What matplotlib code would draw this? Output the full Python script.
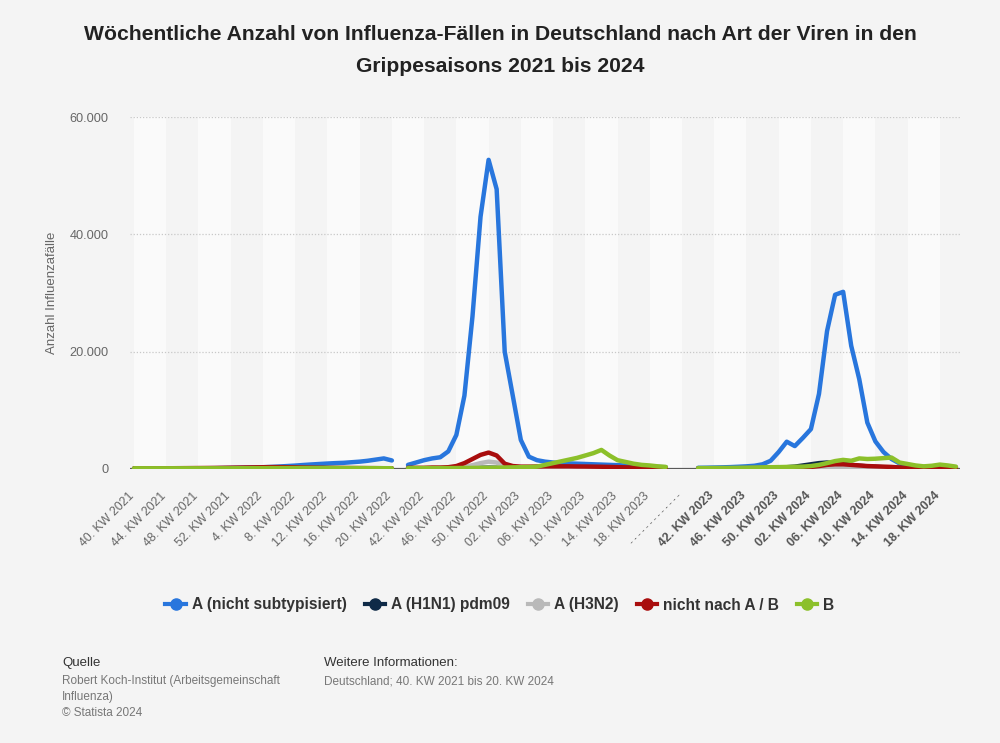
import numpy as np
import matplotlib
matplotlib.use("Agg")
import matplotlib.pyplot as plt
from matplotlib.lines import Line2D
from matplotlib.transforms import offset_copy

plt.rcParams['font.family'] = ['Liberation Sans', 'DejaVu Sans']

# --- Data (weekly cases, each season = KW 40 .. KW 20 of next year) ---
blue_s1 = [60, 60, 70, 70, 80, 90, 100, 110, 120, 130, 140, 160, 180,
           200, 230, 260, 300, 350, 420, 500, 580, 680, 770, 850, 930, 1000,
           1050, 1150, 1250, 1400, 1600, 1800, 1450]
blue_s2 = [700, 1100, 1500, 1800, 2000, 3000, 5800, 12500, 26000, 43000, 52700, 47700, 20000,
           12500, 4950, 2100, 1500, 1250, 1100, 1000, 950, 900, 850, 800, 750, 700,
           650, 600, 500, 450, 400, 350, 300]
blue_s3 = [200, 220, 250, 280, 320, 380, 450, 550, 800, 1400, 2900, 4650, 3900,
           5300, 6800, 12800, 23500, 29700, 30200, 21000, 15300, 7900, 4700, 2900, 1700,
           950, 600, 450, 350, 300, 250, 220, 200]

navy_s1 = [40] * 13 + [50, 50, 60, 60, 70, 70, 80, 80, 90, 90, 90, 90, 80, 80, 70, 70, 60, 60, 50, 50]
navy_s2 = [40, 40, 50, 50, 60, 70, 90, 120, 160, 200, 220, 200, 150,
           120, 100, 90, 80, 80, 70, 70, 60, 60, 60, 50, 50, 50,
           50, 40, 40, 40, 40, 40, 40]
navy_s3 = [60, 60, 70, 70, 80, 90, 100, 120, 140, 170, 200, 300, 400,
           600, 800, 1000, 1100, 1000, 900, 700, 550, 450, 350, 300, 250,
           200, 170, 150, 130, 120, 110, 100, 100]

gray_s1 = [40] * 13 + [50] * 20
gray_s2 = [50, 50, 60, 80, 100, 150, 250, 400, 650, 1000, 1250, 1100, 400,
           200, 150, 120, 100, 90, 80, 70, 60, 60, 60, 50, 50, 50,
           50, 50, 50, 50, 50, 50, 50]
gray_s3 = [60, 60, 60, 70, 70, 80, 80, 90, 100, 110, 120, 130, 140,
           150, 160, 170, 180, 180, 170, 160, 150, 140, 130, 120, 110,
           100, 90, 80, 80, 70, 70, 60, 60]

red_s1 = [100, 100, 110, 110, 120, 130, 140, 150, 160, 170, 180, 200, 220,
          240, 260, 280, 300, 320, 320, 300, 280, 260, 240, 220, 200, 190,
          180, 170, 160, 150, 140, 130, 120]
red_s2 = [200, 200, 200, 250, 250, 300, 500, 1000, 1700, 2400, 2800, 2300, 900,
          500, 400, 400, 420, 450, 450, 450, 450, 430, 420, 400, 380, 350,
          320, 280, 250, 220, 200, 180, 150]
red_s3 = [100, 100, 110, 110, 120, 130, 140, 150, 160, 170, 180, 190, 200,
          250, 350, 500, 700, 800, 800, 700, 600, 500, 450, 400, 350,
          250, 200, 150, 130, 120, 110, 100, 100]

green_s1 = [120] * 13 + [130, 130, 140, 140, 150, 150, 160, 160, 170, 170, 170, 170,
                         160, 160, 150, 150, 140, 140, 130, 130]
green_s2 = [150, 150, 150, 150, 150, 150, 160, 170, 180, 200, 200, 220, 250,
            280, 300, 330, 400, 700, 1000, 1300, 1600, 1900, 2300, 2700, 3250,
            2300, 1500, 1200, 900, 700, 600, 450, 350]
green_s3 = [150, 150, 160, 170, 180, 200, 220, 250, 280, 300, 320, 350, 380,
            400, 500, 700, 1000, 1350, 1550, 1400, 1800, 1700, 1750, 1850, 1950,
            1100, 850, 600, 450, 550, 750, 600, 400]

tick_labels = ["40. KW 2021", "44. KW 2021", "48. KW 2021", "52. KW 2021", "4. KW 2022",
               "8. KW 2022", "12. KW 2022", "16. KW 2022", "20. KW 2022",
               "42. KW 2022", "46. KW 2022", "50. KW 2022", "02. KW 2023", "06. KW 2023",
               "10. KW 2023", "14. KW 2023", "18. KW 2023",
               "- - - - - - - - - - - - -",
               "42. KW 2023", "46. KW 2023", "50. KW 2023", "02. KW 2024", "06. KW 2024",
               "10. KW 2024", "14. KW 2024", "18. KW 2024"]

series_names = ["A (nicht subtypisiert)", "A (H1N1) pdm09", "A (H3N2)", "nicht nach A / B", "B"]
series_colors = ["#2876dd", "#0f2a47", "#b9b9b9", "#a90d0d", "#8cc02a"]


def join_seasons(s1, s2, s3):
    # one empty slot after season 1, three after season 2 (separator)
    return np.array(s1 + [np.nan] + s2 + [np.nan] * 3 + s3, dtype=float)


series = [join_seasons(blue_s1, blue_s2, blue_s3),
          join_seasons(navy_s1, navy_s2, navy_s3),
          join_seasons(gray_s1, gray_s2, gray_s3),
          join_seasons(red_s1, red_s2, red_s3),
          join_seasons(green_s1, green_s2, green_s3)]

n = len(series[0])
x = np.arange(n)

# --- Figure ---
bg = "#f4f4f4"
fig = plt.figure(figsize=(10, 7.43), dpi=100, facecolor=bg)
ax = fig.add_axes([0.13, 0.3688, 0.83, 0.4737])
ax.set_facecolor(bg)

# alternating bands, 4 weeks wide
for k in range(0, n, 8):
    ax.axvspan(k, k + 4, color="#fafafa", lw=0, zorder=0)

for yv in [20000, 40000, 60000]:
    ax.axhline(yv, color="#c8c8c8", lw=0.9, ls=(0, (1, 1.5)), zorder=1)
ax.axhline(0, color="#5a5a5a", lw=1.6, zorder=2)

for vals, col in zip(series, series_colors):
    ax.plot(x, vals, color=col, lw=3.2, solid_capstyle="round",
            solid_joinstyle="round", zorder=3)

ax.set_xlim(-0.5, n - 0.5)
ax.set_ylim(0, 60000)
ax.set_yticks([0, 20000, 40000, 60000])
ax.set_yticklabels(["0", "20.000", "40.000", "60.000"], color="#666666", fontsize=9.2)
ax.set_ylabel("Anzahl Influenzafälle", color="#666666", fontsize=9.5, labelpad=8)

# x labels drawn as rotated texts below the axis
tick_pos = np.arange(0, n, 4)
ax.set_xticks(tick_pos)
ax.set_xticklabels([])
lab_trans = offset_copy(ax.get_xaxis_transform(), fig=fig, x=-2, y=-25, units="dots")
for i, (pos, lab) in enumerate(zip(tick_pos, tick_labels)):
    bold = i >= 18
    sep = i == 17
    ax.text(pos, 0, lab, transform=lab_trans, rotation=45, rotation_mode="anchor",
            ha="right", va="center", fontsize=6.5 if sep else 8.9,
            fontweight="bold" if bold else "normal",
            color="#555555" if (bold or sep) else "#666666")
ax.tick_params(axis="both", length=0)
ax.tick_params(axis="y", pad=15.5)
for s in ax.spines.values():
    s.set_visible(False)

# --- Title ---
fig.text(0.5, 1 - 35 / 743, "Wöchentliche Anzahl von Influenza-Fällen in Deutschland nach Art der Viren in den",
         ha="center", va="center", fontsize=15.2, fontweight="bold", color="#222222")
fig.text(0.5, 1 - 67 / 743, "Grippesaisons 2021 bis 2024",
         ha="center", va="center", fontsize=15.2, fontweight="bold", color="#222222")

# --- Legend ---
handles = [Line2D([], [], color=c, lw=3, marker="o", markersize=8) for c in series_colors]
leg = fig.legend(handles, series_names, loc="center", bbox_to_anchor=(0.5, 1 - 605 / 743),
                 ncol=5, frameon=False, handlelength=1.3, handletextpad=0.4, columnspacing=1.15,
                 prop={"size": 11.2, "weight": "bold"})
for t in leg.get_texts():
    t.set_color("#333333")

# --- Footer ---
fig.text(0.062, 1 - 663 / 743, "Quelle", fontsize=9.5, color="#333333", va="center")
fig.text(0.062, 1 - 681 / 743, "Robert Koch-Institut (Arbeitsgemeinschaft", fontsize=8.5, color="#777777", va="center")
fig.text(0.062, 1 - 697 / 743, "Influenza)", fontsize=8.5, color="#777777", va="center")
fig.text(0.062, 1 - 713 / 743, "© Statista 2024", fontsize=8.5, color="#777777", va="center")
fig.text(0.324, 1 - 663 / 743, "Weitere Informationen:", fontsize=9.5, color="#333333", va="center")
fig.text(0.324, 1 - 681 / 743, "Deutschland; 40. KW 2021 bis 20. KW 2024", fontsize=8.5, color="#777777", va="center")

fig.savefig("out.png", dpi=100, facecolor=bg)
